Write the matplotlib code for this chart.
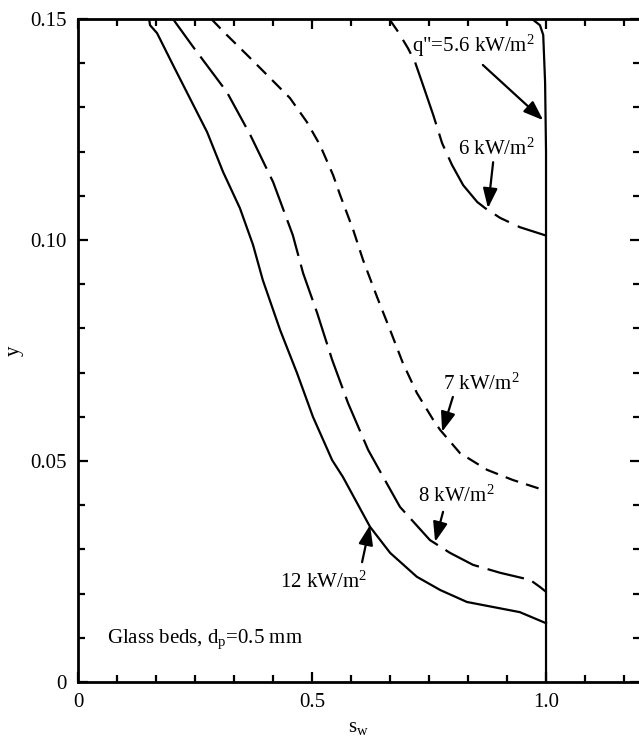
import numpy as np
import matplotlib
matplotlib.use('Agg')
import matplotlib.pyplot as plt
from matplotlib.ticker import MultipleLocator

plt.rcParams['font.family'] = ['Liberation Serif', 'DejaVu Serif']
plt.rcParams['mathtext.fontset'] = 'custom'
plt.rcParams['mathtext.rm'] = 'Liberation Serif'
plt.rcParams['mathtext.it'] = 'Liberation Serif:italic'
plt.rcParams['lines.scale_dashes'] = False

# curves: saturation s_w vs height y
sw_12 = [0.152, 0.154, 0.169, 0.203, 0.239, 0.276, 0.310, 0.346, 0.374, 0.395, 0.432,
         0.468, 0.502, 0.543, 0.566, 0.624, 0.667, 0.724, 0.774, 0.831, 0.944, 1.0]
y_12 = [0.150, 0.1486, 0.1468, 0.1396, 0.1321, 0.1244, 0.1154, 0.1072, 0.0989, 0.0909, 0.0796,
        0.0699, 0.0600, 0.0502, 0.0464, 0.0351, 0.0292, 0.0238, 0.0208, 0.0181, 0.0158, 0.0133]

sw_8 = [0.203, 0.246, 0.318, 0.368, 0.417, 0.459, 0.481, 0.511, 0.543, 0.577, 0.620,
        0.652, 0.688, 0.752, 0.795, 0.844, 0.902, 0.966, 0.987, 1.0]
y_8 = [0.150, 0.1437, 0.1335, 0.1238, 0.1131, 0.1011, 0.0925, 0.0835, 0.0729, 0.0631, 0.0525,
       0.0464, 0.0396, 0.0321, 0.0292, 0.0265, 0.0247, 0.0231, 0.0215, 0.0204]

sw_7 = [0.285, 0.314, 0.361, 0.410, 0.453, 0.489, 0.517, 0.545, 0.560, 0.588, 0.609, 0.639,
        0.667, 0.694, 0.724, 0.759, 0.774, 0.816, 0.874, 0.929, 0.987, 1.0]
y_7 = [0.150, 0.1468, 0.1419, 0.1367, 0.1321, 0.1267, 0.1215, 0.1147, 0.1102, 0.1023, 0.0955, 0.0871,
       0.0796, 0.0722, 0.0654, 0.0593, 0.0570, 0.0518, 0.0480, 0.0457, 0.0437, 0.0433]

sw_6 = [0.665, 0.684, 0.705, 0.720, 0.737, 0.759, 0.778, 0.799, 0.823, 0.853, 0.870,
        0.902, 0.944, 1.0]
y_6 = [0.150, 0.1471, 0.1434, 0.1403, 0.1351, 0.1283, 0.1219, 0.1170, 0.1124, 0.1086, 0.1072,
       0.1050, 0.1029, 0.1010]

sw_56 = [0.970, 0.987, 0.994, 0.998, 1.0, 1.0]
y_56 = [0.150, 0.1486, 0.1464, 0.1357, 0.120, 0.0]

fig = plt.figure(figsize=(6.39, 7.45), dpi=100)
ax = fig.add_axes([0.122, 0.0846, 0.879, 0.8899])

lw = 1.6
ax.plot(sw_12, y_12, color='black', lw=lw)
ax.plot(sw_8, y_8, color='black', lw=lw, linestyle=(0, (27, 6.5)))
ax.plot(sw_7, y_7, color='black', lw=lw, linestyle=(0, (9.5, 6)))
ax.plot(sw_6, y_6, color='black', lw=lw, linestyle=(36, (47, 7, 11.5, 7)))
ax.plot(sw_56, y_56, color='black', lw=lw)

arrow = dict(arrowstyle='-|>,head_length=0.6,head_width=0.22', color='black',
             lw=1.6, shrinkA=0, shrinkB=0, mutation_scale=20)
fs = 15
ax.text(0.714, 0.1425, 'q"=5.6 kW/m$^2$', fontsize=fs)
ax.annotate('', xy=(0.994, 0.1271), xytext=(0.865, 0.1396), arrowprops=arrow)
ax.text(0.812, 0.1192, '6 kW/m$^2$', fontsize=fs)
ax.annotate('', xy=(0.876, 0.1072), xytext=(0.887, 0.1176), arrowprops=arrow)
ax.text(0.780, 0.0661, '7 kW/m$^2$', fontsize=fs)
ax.annotate('', xy=(0.778, 0.0566), xytext=(0.801, 0.0645), arrowprops=arrow)
ax.text(0.726, 0.0407, '8 kW/m$^2$', fontsize=fs)
ax.annotate('', xy=(0.763, 0.0317), xytext=(0.780, 0.0385), arrowprops=arrow)
ax.text(0.432, 0.0213, '12 kW/m$^2$', fontsize=fs)
ax.annotate('', xy=(0.624, 0.0355), xytext=(0.607, 0.0271), arrowprops=arrow)
ax.text(0.062, 0.0088, 'Glass beds, d$_\\mathrm{p}$=0.5 mm', fontsize=fs)

ax.set_xlim(0, 1.2)
ax.set_ylim(0, 0.15)
ax.set_xticks([0, 0.5, 1.0])
ax.set_xticklabels(['0', '0.5', '1.0'])
ax.set_yticks([0, 0.05, 0.10, 0.15])
ax.set_yticklabels(['0', '0.05', '0.10', '0.15'])
ax.xaxis.set_minor_locator(MultipleLocator(0.5 / 6))
ax.yaxis.set_minor_locator(MultipleLocator(0.01))
ax.tick_params(which='both', direction='in', top=True, right=True, width=1.6, labelsize=15)
ax.tick_params(which='major', length=7)
ax.tick_params(which='minor', length=5)
ax.tick_params(axis='x', pad=8)
ax.tick_params(axis='y', pad=8)
for sp in ax.spines.values():
    sp.set_linewidth(2)

ax.set_xlabel('s$_\\mathrm{w}$', fontsize=15, labelpad=4)
ax.set_ylabel('y', fontsize=15, labelpad=5)

fig.savefig('out.png', dpi=100)
